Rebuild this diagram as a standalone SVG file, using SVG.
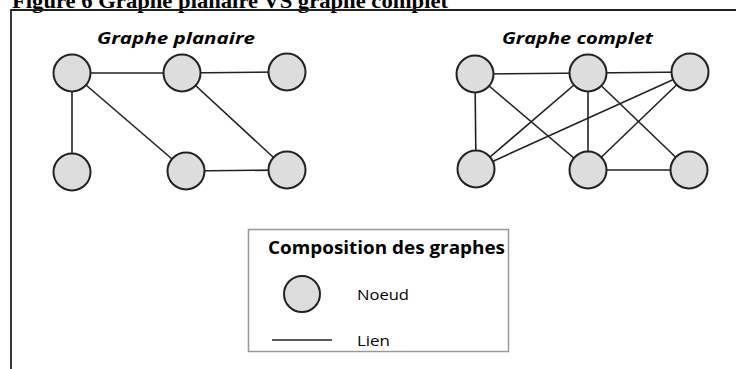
<svg xmlns="http://www.w3.org/2000/svg" width="736" height="369" viewBox="0 0 736 369">
<style>
.node{fill:#dddddd;stroke:#222222;stroke-width:2}
.edge{stroke:#222222;stroke-width:1.6;fill:none}
.frame{stroke:#222222;stroke-width:1.8;fill:none}
.fig{font-family:"Liberation Serif",serif;font-weight:bold;font-size:21px;fill:#000}
.gt{font-family:"Open Sans","Liberation Sans",sans-serif;font-weight:bold;font-style:italic;font-size:16.5px;fill:#000}
.lt{font-family:"Open Sans","Liberation Sans",sans-serif;font-weight:bold;font-size:18px;fill:#000}
.lbl{font-family:"Open Sans","Liberation Sans",sans-serif;font-size:15px;fill:#000}
</style>
<rect width="736" height="369" fill="#ffffff"/>
<text class="fig" x="12" y="7.5" textLength="436" lengthAdjust="spacingAndGlyphs">Figure 6 Graphe planaire VS graphe complet</text>
<path class="frame" d="M11 369 V10 H736"/>
<text class="gt" x="97" y="43.5" textLength="158" lengthAdjust="spacingAndGlyphs">Graphe planaire</text>
<text class="gt" x="502" y="43.5" textLength="151" lengthAdjust="spacingAndGlyphs">Graphe complet</text>
<g id="connectors">
<line class="edge" x1="72" y1="73" x2="182" y2="73"/>
<line class="edge" x1="182" y1="73" x2="287" y2="72"/>
<line class="edge" x1="72" y1="73" x2="72" y2="172"/>
<line class="edge" x1="72" y1="73" x2="186" y2="171"/>
<line class="edge" x1="182" y1="73" x2="287" y2="170"/>
<line class="edge" x1="186" y1="171" x2="287" y2="170"/>
<line class="edge" x1="475" y1="74" x2="588" y2="73"/>
<line class="edge" x1="588" y1="73" x2="690" y2="72"/>
<line class="edge" x1="475" y1="74" x2="476" y2="169"/>
<line class="edge" x1="475" y1="74" x2="588" y2="170"/>
<line class="edge" x1="588" y1="73" x2="476" y2="169"/>
<line class="edge" x1="588" y1="73" x2="588" y2="170"/>
<line class="edge" x1="588" y1="73" x2="689" y2="170"/>
<line class="edge" x1="690" y1="72" x2="476" y2="169"/>
<line class="edge" x1="690" y1="72" x2="588" y2="170"/>
<line class="edge" x1="588" y1="170" x2="689" y2="170"/>
</g>
<g id="p1"><circle class="node" cx="72" cy="73" r="18.5"/></g>
<g id="p2"><circle class="node" cx="182" cy="73" r="18.5"/></g>
<g id="p3"><circle class="node" cx="287" cy="72" r="18.5"/></g>
<g id="p4"><circle class="node" cx="72" cy="172" r="18.5"/></g>
<g id="p5"><circle class="node" cx="186" cy="171" r="18.5"/></g>
<g id="p6"><circle class="node" cx="287" cy="170" r="18.5"/></g>
<g id="c1"><circle class="node" cx="475" cy="74" r="18.5"/></g>
<g id="c2"><circle class="node" cx="588" cy="73" r="18.5"/></g>
<g id="c3"><circle class="node" cx="690" cy="72" r="18.5"/></g>
<g id="c4"><circle class="node" cx="476" cy="169" r="18.5"/></g>
<g id="c5"><circle class="node" cx="588" cy="170" r="18.5"/></g>
<g id="c6"><circle class="node" cx="689" cy="170" r="18.5"/></g>
<g id="legend">
<rect x="248.5" y="229.5" width="260" height="122" fill="#ffffff" stroke="#999999" stroke-width="1.5"/>
<text class="lt" x="268" y="253.5" textLength="237" lengthAdjust="spacingAndGlyphs">Composition des graphes</text>
<circle class="node" cx="302" cy="294" r="18"/>
<text class="lbl" x="357" y="299.5" textLength="52" lengthAdjust="spacingAndGlyphs">Noeud</text>
<line class="edge" x1="272" y1="340" x2="332" y2="340"/>
<text class="lbl" x="357" y="345.5" textLength="33" lengthAdjust="spacingAndGlyphs">Lien</text>
</g>
</svg>
